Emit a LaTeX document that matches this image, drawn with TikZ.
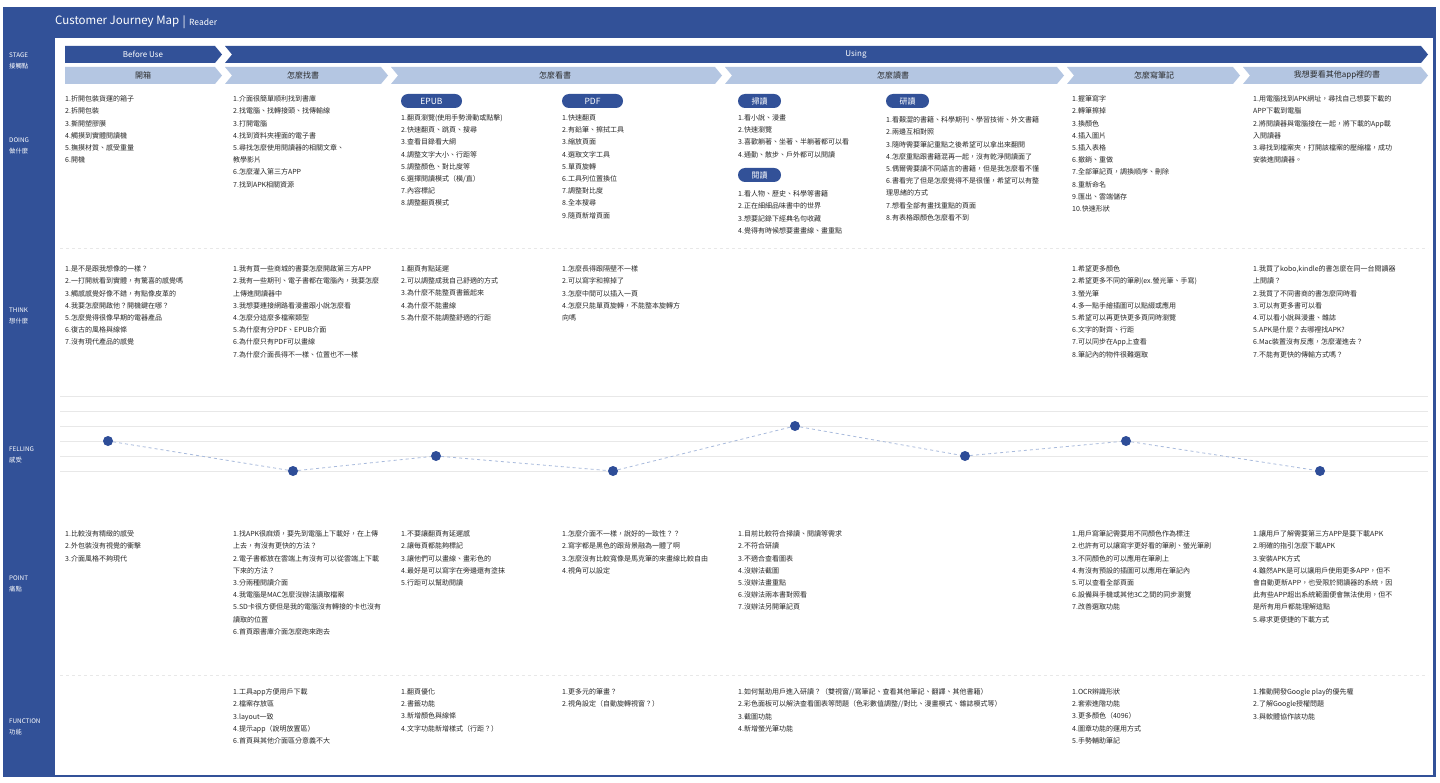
\documentclass[tikz,border=0pt]{standalone}
\usepackage{fontspec}
\setmainfont{Noto Sans CJK TC}
\definecolor{mainblue}{RGB}{50,81,152}
\definecolor{lightband}{RGB}{180,198,226}
\definecolor{dotblue}{RGB}{46,77,152}
\definecolor{dashblue}{RGB}{168,186,220}
\definecolor{gridgray}{RGB}{232,232,232}
\definecolor{txt}{RGB}{40,40,40}
\newcommand\chevronband[6]{%
  \path[#1] (#2,#4) -- ({#3-7},#4) -- (#3,{(#4+#5)/2}) -- ({#3-7},#5) -- (#2,#5) -- ({#2+#6},{(#4+#5)/2}) -- cycle;}
\tikzset{
  body/.style={anchor=north west, inner sep=0pt, align=left, text=txt, font=\fontsize{7}{12.2}\selectfont},
  side/.style={anchor=west, inner sep=0pt, align=left, text=white, font=\fontsize{6.3}{10.5}\selectfont},
  pill/.style={fill=mainblue, rounded corners=7pt, minimum width=61pt, minimum height=14pt, inner sep=0pt, text=white, font=\fontsize{8.5}{9}\selectfont},
  bandlabel/.style={inner sep=0pt, font=\fontsize{8}{9}\selectfont},
  feeldot/.style={circle, fill=dotblue, minimum size=10pt, inner sep=0pt},
  sepline/.style={draw=gridgray, dashed, line width=0.6pt},
  gridline/.style={draw=gridgray, line width=0.6pt}
}
\begin{document}
\begin{tikzpicture}[x=1pt,y=-1pt]
\useasboundingbox (0,0) rectangle (1440,783);
\fill[white] (0,0) rectangle (1440,783);
\fill[mainblue] (3,7) rectangle (1436,777);
\fill[white] (55,38) rectangle (1433,775);

% title
\node[anchor=west, inner sep=0pt, text=white, font=\fontsize{11.5}{13}\selectfont] (title) at (55,22) {Customer Journey Map};
\node[anchor=west, inner sep=0pt, text=white, font=\fontsize{11.5}{13}\selectfont] (bar) at ([xshift=3pt]title.east) {|};
\node[anchor=west, inner sep=0pt, text=white, font=\fontsize{8.5}{10}\selectfont] (reader) at ([xshift=3pt]bar.east) {Reader};

% side labels
\node[side] (lstage) at (9,61) {STAGE\\接觸點};
\node[side] (ldoing) at (9,146) {DOING\\做什麼};
\node[side] (lthink) at (9,316) {THINK\\想什麼};
\node[side] (lfeel) at (9,455) {FELLING\\感受};
\node[side] (lpoint) at (9,584) {POINT\\痛點};
\node[side] (lfunc) at (9,727) {FUNCTION\\功能};

% stage bands
\chevronband{fill=mainblue}{65}{222}{46}{63}{0}
\chevronband{fill=mainblue}{225}{1428}{46}{63}{7}
\node[bandlabel, text=white] (before) at (143,54.5) {Before Use};
\node[bandlabel, text=white] (using) at (856,54.5) {Using};

\chevronband{fill=lightband}{65}{222}{67}{84}{0}
\chevronband{fill=lightband}{225}{388}{67}{84}{7}
\chevronband{fill=lightband}{391}{722}{67}{84}{7}
\chevronband{fill=lightband}{725}{1064}{67}{84}{7}
\chevronband{fill=lightband}{1067}{1240}{67}{84}{7}
\chevronband{fill=lightband}{1243}{1428}{67}{84}{7}
\node[bandlabel, text=txt] (st1) at (143,75.5) {開箱};
\node[bandlabel, text=txt] (st2) at (303,75.5) {怎麼找書};
\node[bandlabel, text=txt] (st3) at (555,75.5) {怎麼看書};
\node[bandlabel, text=txt] (st4) at (893,75.5) {怎麼讀書};
\node[bandlabel, text=txt] (st5) at (1154,75.5) {怎麼寫筆記};
\node[bandlabel, text=txt] (st6) at (1337,75.5) {我想要看其他app裡的書};

% separators
\draw[sepline] (60,248) -- (1428,248);
\draw[sepline] (60,675) -- (1428,675);
\foreach \yy in {396,411,426,441,456,471} \draw[gridline] (60,\yy) -- (1428,\yy);

% DOING
\node[body] (d1) at (65,95.5) {1.折開包裝貨運的箱子\\2.拆開包裝\\3.撕開塑膠膜\\4.觸摸到實體閱讀機\\5.撫摸材質、感受重量\\6.開機};
\node[body] (d2) at (233,95.5) {1.介面很簡單順利找到書庫\\2.找電腦、找轉接頭、找傳輸線\\3.打開電腦\\4.找到資料夾裡面的電子書\\5.尋找怎麼使用閱讀器的相關文章、\\教學影片\\6.怎麼灌入第三方APP\\7.找到APK相關資源};
\node[pill] (epub) at (431.5,101) {EPUB};
\node[pill] (pdf) at (592.5,101) {PDF};
\node[body] (d3a) at (401,114.5) {1.翻頁瀏覽(使用手勢滑動或點擊)\\2.快速翻頁、跳頁、搜尋\\3.查看目錄看大綱\\4.調整文字大小、行距等\\5.調整顏色、對比度等\\6.選擇閱讀模式（橫/直）\\7.內容標記\\8.調整翻頁模式};
\node[body] (d3b) at (562,114.5) {1.快速翻頁\\2.有鉛筆、擦拭工具\\3.縮放頁面\\4.選取文字工具\\5.單頁旋轉\\6.工具列位置換位\\7.調整對比度\\8.全本搜尋\\9.隨頁新增頁面};
\node[pill, minimum width=43pt, font=\fontsize{8}{9}\selectfont] (scan) at (759.5,101) {掃讀};
\node[body] (d4a) at (738,114.5) {1.看小說、漫畫\\2.快速瀏覽\\3.喜歡躺著、坐著、半躺著都可以看\\4.通勤、散步、戶外都可以閱讀};
\node[pill, minimum width=43pt, font=\fontsize{8}{9}\selectfont] (read) at (759.5,175) {閱讀};
\node[body] (d4b) at (738,190.5) {1.看人物、歷史、科學等書籍\\2.正在細細品味書中的世界\\3.想要記錄下經典名句收藏\\4.覺得有時候想要畫畫線、畫重點};
\node[pill, minimum width=43pt, font=\fontsize{8}{9}\selectfont] (study) at (907.5,101) {研讀};
\node[body] (d4c) at (886,116.5) {1.看艱澀的書籍、科學期刊、學習技術、外文書籍\\2.兩邊互相對照\\3.隨時需要筆記重點之後希望可以拿出來翻閱\\4.怎麼重點跟書籍混再一起，沒有乾淨閱讀面了\\5.偶爾需要讀不同語言的書籍，但是我怎麼看不懂\\6.書看完了但是怎麼覺得不是很懂，希望可以有整\\理思緒的方式\\7.想看全部有畫找重點的頁面\\8.有表格跟顏色怎麼看不到};
\node[body] (d5) at (1072,95.5) {1.握筆寫字\\2.轉筆擦掉\\3.換顏色\\4.插入圖片\\5.插入表格\\6.撤銷、重做\\7.全部筆記頁，調換順序、刪除\\8.重新命名\\9.匯出、雲端儲存\\10.快速形狀};
\node[body] (d6) at (1253,95.5) {1.用電腦找到APK網址，尋找自己想要下載的\\APP下載到電腦\\2.將閱讀器與電腦接在一起，將下載的App載\\入閱讀器\\3.尋找到檔案夾，打開該檔案的壓縮檔，成功\\安裝進閱讀器。};

% THINK
\node[body] (t1) at (65,265.5) {1.是不是跟我想像的一樣？\\2.一打開就看到實體，有驚喜的感覺嗎\\3.觸感感覺好像不錯，有點像皮革的\\4.我要怎麼開啟他？開機鍵在哪？\\5.怎麼覺得很像早期的電器產品\\6.復古的風格與線條\\7.沒有現代產品的感覺};
\node[body] (t2) at (233,265.5) {1.我有買一些商城的書要怎麼開啟第三方APP\\2.我有一些期刊、電子書都在電腦內，我要怎麼\\上傳進閱讀器中\\3.我想要連接網路看漫畫跟小說怎麼看\\4.怎麼分這麼多檔案類型\\5.為什麼有分PDF、EPUB介面\\6.為什麼只有PDF可以畫線\\7.為什麼介面長得不一樣、位置也不一樣};
\node[body] (t3) at (401,265.5) {1.翻頁有點延遲\\2.可以調整成我自己舒適的方式\\3.為什麼不能整頁書籤起來\\4.為什麼不能畫線\\5.為什麼不能調整舒適的行距};
\node[body] (t4) at (562,265.5) {1.怎麼長得跟隔壁不一樣\\2.可以寫字和擦掉了\\3.怎麼中間可以插入一頁\\4.怎麼只能單頁旋轉，不能整本旋轉方\\向嗎};
\node[body] (t5) at (1072,265.5) {1.希望更多顏色\\2.希望更多不同的筆刷(ex.螢光筆、手寫)\\3.螢光筆\\4.多一點手繪插圖可以點綴或應用\\5.希望可以再更快更多頁同時瀏覽\\6.文字的對齊、行距\\7.可以同步在App上查看\\8.筆記內的物件很難選取};
\node[body] (t6) at (1253,265.5) {1.我買了kobo,kindle的書怎麼在同一台閱讀器\\上閱讀？\\2.我買了不同書商的書怎麼同時看\\3.可以有更多書可以看\\4.可以看小說與漫畫、雜誌\\5.APK是什麼？去哪裡找APK?\\6.Mac裝置沒有反應，怎麼灌進去？\\7.不能有更快的傳輸方式嗎？};

% FEELING
\node[feeldot] (f1) at (108,441) {};
\node[feeldot] (f2) at (293,471) {};
\node[feeldot] (f3) at (436,456) {};
\node[feeldot] (f4) at (613,471) {};
\node[feeldot] (f5) at (795,426) {};
\node[feeldot] (f6) at (965,456) {};
\node[feeldot] (f7) at (1126,441) {};
\node[feeldot] (f8) at (1320,471) {};
\draw[dashblue, dashed, line width=0.8pt] (f1) -- (f2) -- (f3) -- (f4) -- (f5) -- (f6) -- (f7) -- (f8);

% POINT
\node[body] (p1) at (65,530.5) {1.比較沒有精緻的感受\\2.外包裝沒有視覺的衝擊\\3.介面風格不夠現代};
\node[body] (p2) at (233,530.5) {1.找APK很麻煩，要先到電腦上下載好，在上傳\\上去，有沒有更快的方法？\\2.電子書都放在雲端上有沒有可以從雲端上下載\\下來的方法？\\3.分兩種閱讀介面\\4.我電腦是MAC怎麼沒辦法讀取檔案\\5.SD卡很方便但是我的電腦沒有轉接的卡也沒有\\讀取的位置\\6.首頁跟書庫介面怎麼跑來跑去};
\node[body] (p3) at (401,530.5) {1.不要讓翻頁有延遲感\\2.讓每頁都能夠標記\\3.讓他們可以畫線、畫彩色的\\4.最好是可以寫字在旁邊還有塗抹\\5.行距可以幫助閱讀};
\node[body] (p4) at (562,530.5) {1.怎麼介面不一樣，說好的一致性？？\\2.寫字都是黑色的跟背景融為一體了啊\\3.怎麼沒有比較寬像是馬克筆的來畫線比較自由\\4.視角可以設定};
\node[body] (p5) at (738,530.5) {1.目前比較符合掃讀、閱讀等需求\\2.不符合研讀\\3.不適合查看圖表\\4.沒辦法截圖\\5.沒辦法畫重點\\6.沒辦法兩本書對照看\\7.沒辦法另開筆記頁};
\node[body] (p6) at (1072,530.5) {1.用戶寫筆記需要用不同顏色作為標注\\2.也許有可以讓寫字更好看的筆刷、螢光筆刷\\3.不同顏色的可以應用在筆刷上\\4.有沒有預設的插圖可以應用在筆記內\\5.可以查看全部頁面\\6.設備與手機或其他3C之間的同步瀏覽\\7.改善選取功能};
\node[body] (p7) at (1253,530.5) {1.讓用戶了解需要第三方APP是要下載APK\\2.明確的指引怎麼下載APK\\3.安裝APK方式\\4.雖然APK是可以讓用戶使用更多APP，但不\\會自動更新APP，也受限於閱讀器的系統，因\\此有些APP超出系統範圍便會無法使用，但不\\是所有用戶都能理解這點\\5.尋求更便捷的下載方式};

% FUNCTION
\node[body] (g2) at (233,688.5) {1.工具app方便用戶下載\\2.檔案存放區\\3.layout一致\\4.提示app（說明放置區）\\6.首頁與其他介面區分意義不大};
\node[body] (g3) at (401,688.5) {1.翻頁優化\\2.書籤功能\\3.新增顏色與線條\\4.文字功能新增樣式（行距？）};
\node[body] (g4) at (562,688.5) {1.更多元的筆畫？\\2.視角設定（自動旋轉視窗？）};
\node[body] (g5) at (738,688.5) {1.如何幫助用戶進入研讀？（雙視窗//寫筆記、查看其他筆記、翻譯、其他書籍）\\2.彩色面板可以解決查看圖表等問題（色彩數值調整//對比、漫畫模式、雜誌模式等）\\3.截圖功能\\4.新增螢光筆功能};
\node[body] (g6) at (1072,688.5) {1.OCR辨識形狀\\2.套索進階功能\\3.更多顏色（4096）\\4.圖章功能的運用方式\\5.手勢輔助筆記};
\node[body] (g7) at (1253,688.5) {1.推動開發Google play的優先權\\2.了解Google授權問題\\3.與軟體協作該功能};
\end{tikzpicture}
\end{document}
